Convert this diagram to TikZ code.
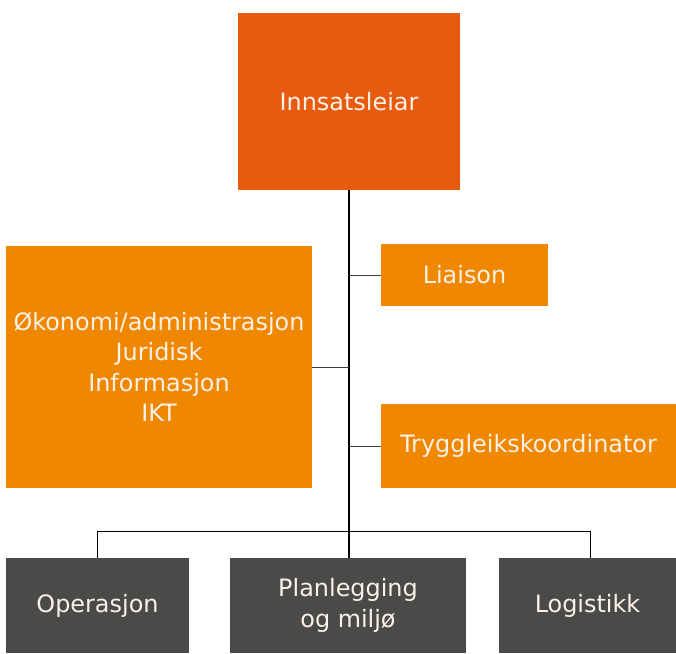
\documentclass[tikz,border=0pt]{standalone}
\usepackage{fontspec}
\setmainfont{DejaVu Sans}
\definecolor{leadorange}{HTML}{E85B0E}
\definecolor{staborange}{HTML}{EF8700}
\definecolor{unitgrey}{HTML}{4A4A48}
\definecolor{boxtext}{HTML}{FBF1E6}

\begin{document}
\begin{tikzpicture}[x=0.025cm,y=-0.025cm]
            \useasboundingbox (0,0) rectangle (676,653);
            \begin{scope}[every node/.style={rectangle,inner sep=0pt,outer sep=0pt,align=center,text=boxtext,font=\fontsize{17}{21.5}\selectfont}]
                \node[fill=leadorange,minimum width=5.55cm,minimum height=4.425cm] (lead) at (349,101.5) {Innsatsleiar};
                \node[fill=staborange,minimum width=4.175cm,minimum height=1.55cm] (liaison) at (464.5,275) {Liaison};
                \node[fill=staborange,minimum width=7.65cm,minimum height=6.05cm] (stab) at (159,367) {Økonomi/administrasjon\\Juridisk\\Informasjon\\IKT};
                \node[fill=staborange,minimum width=7.375cm,minimum height=2.1cm] (safety) at (528.5,446) {Tryggleikskoordinator};
                \node[fill=unitgrey,minimum width=4.575cm,minimum height=2.375cm] (ops) at (97.5,605.5) {Operasjon};
                \node[fill=unitgrey,minimum width=5.9cm,minimum height=2.375cm] (plan) at (348,605.5) {Planlegging\\og miljø};
                \node[fill=unitgrey,minimum width=4.425cm,minimum height=2.375cm] (logi) at (587.5,605.5) {Logistikk};
            \end{scope}
            \coordinate (busleft) at (97,531);
            \coordinate (busright) at (590,531);
            \draw[line width=1.4pt] (lead.south) -- (lead.south |- plan.north);
            \draw[line width=0.6pt,black!75] (lead.south |- liaison.west) -- (liaison.west);
            \draw[line width=0.6pt,black!75] (stab.east) -- (stab.east -| lead.south);
            \draw[line width=0.6pt,black!75] (lead.south |- safety.west) -- (safety.west);
            \draw[line width=0.6pt] (busleft |- ops.north) -- (busleft) -- (busright) -- (busright |- logi.north);
\end{tikzpicture}
\end{document}
